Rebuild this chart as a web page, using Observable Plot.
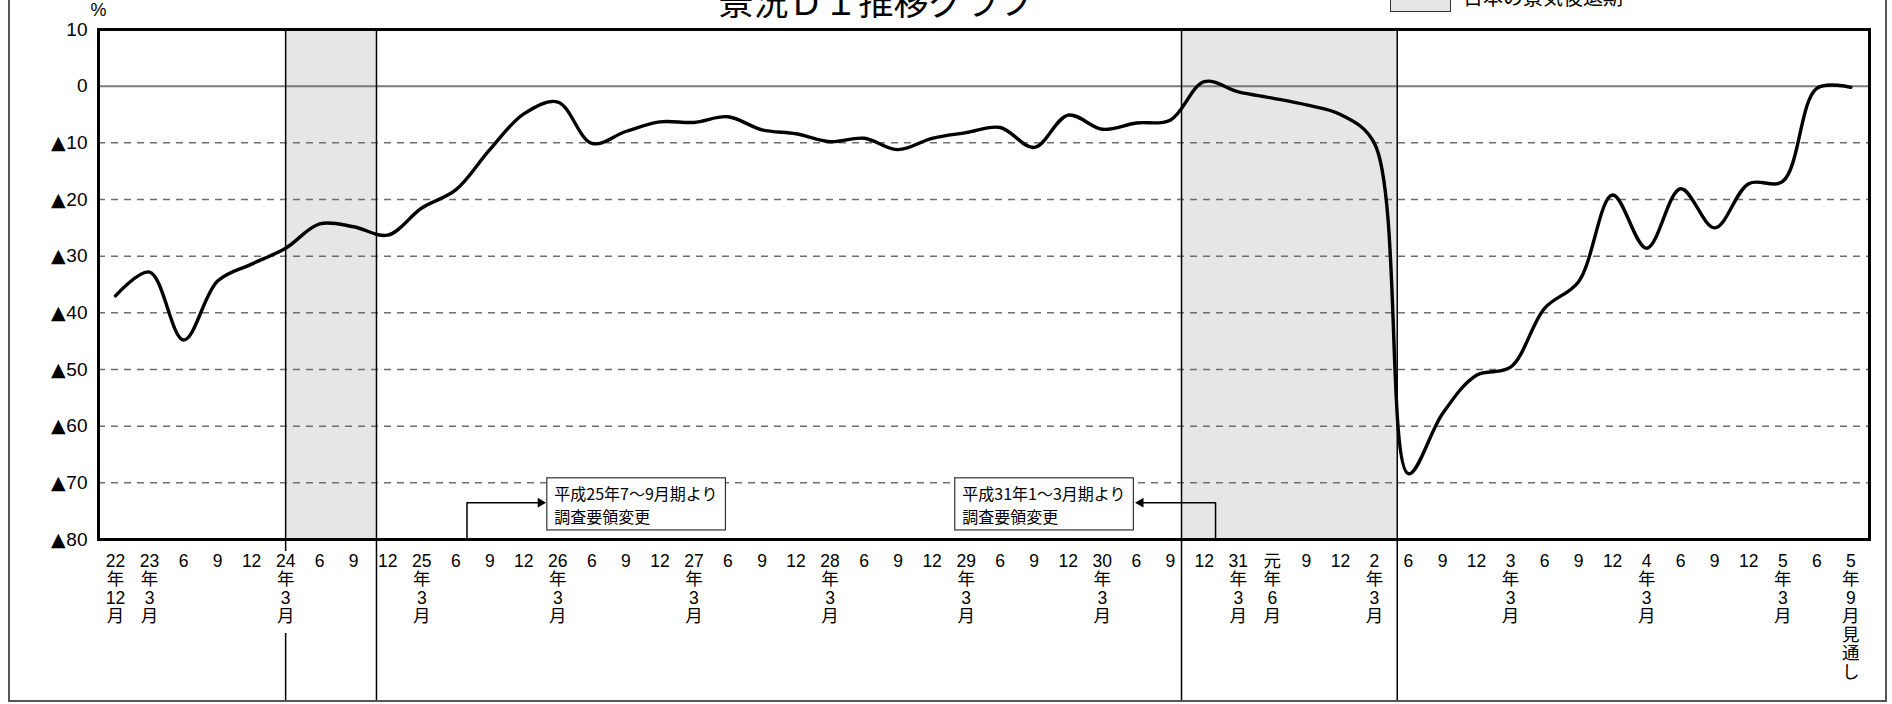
<!DOCTYPE html>
<html><head><meta charset="utf-8">
<script src="https://cdn.jsdelivr.net/npm/d3@7"></script>
<script src="https://cdn.jsdelivr.net/npm/@observablehq/plot@0.6"></script>
<style>
@font-face{font-family:"Tri";src:local("DejaVu Sans"),local("DejaVuSans");unicode-range:U+25B2;}
html,body{margin:0;padding:0;background:#fff;overflow:hidden;}
#wrap{position:relative;width:1892px;height:704px;font-family:"Liberation Sans","Noto Sans CJK JP",sans-serif;}
#outer{position:absolute;left:8px;top:-20px;width:1879px;height:722px;border:2px solid #555;box-sizing:border-box;pointer-events:none;}
#title{position:absolute;left:876px;top:-26px;transform:translateX(-50%);font-size:35px;white-space:nowrap;font-family:"Noto Sans CJK JP",sans-serif;}
#legbox{position:absolute;left:1390px;top:-20px;width:61px;height:32px;background:#e6e6e6;border:1.5px solid #333;box-sizing:border-box;}
#legtxt{position:absolute;left:1463px;top:-18px;font-size:20px;white-space:nowrap;font-family:"Noto Sans CJK JP",sans-serif;}
</style></head>
<body><div id="wrap"><div id="chart"></div><div id="outer"></div>
<div id="title">景況ＤＩ推移グラフ</div><div id="legbox"></div><div id="legtxt">日本の景気後退期</div></div>
<script>
// quarterly labels (index 0 = 平成22年12月 ... 51 = 令和5年9月見通し)
const xLabels = ["22\n年\n12\n月","23\n年\n3\n月","6","9","12","24\n年\n3\n月","6","9","12","25\n年\n3\n月","6","9","12","26\n年\n3\n月","6","9","12","27\n年\n3\n月","6","9","12","28\n年\n3\n月","6","9","12","29\n年\n3\n月","6","9","12","30\n年\n3\n月","6","9","12","31\n年\n3\n月","元\n年\n6\n月","9","12","2\n年\n3\n月","6","9","12","3\n年\n3\n月","6","9","12","4\n年\n3\n月","6","9","12","5\n年\n3\n月","6","5\n年\n9\n月\n見\n通\nし"];
// DI values (%)
const diValues = [-37,-32.8,-44.8,-34.4,-31.4,-28.6,-24.3,-24.8,-26.3,-21.5,-18.3,-11.2,-4.9,-2.8,-10.1,-8.0,-6.3,-6.4,-5.4,-7.7,-8.4,-9.8,-9.2,-11.2,-9.2,-8.2,-7.3,-10.8,-5.1,-7.6,-6.5,-6.0,0.8,-1.0,-2.1,-3.3,-5.0,-10.1,-68.4,-57.8,-51.0,-49.6,-39.2,-34.5,-19.2,-28.6,-18.1,-25.0,-17.2,-16.8,-0.4,-0.2];
// y axis
const yTicks = [10,0,-10,-20,-30,-40,-50,-60,-70,-80];
const yTickLabels = ["10","0","▲10","▲20","▲30","▲40","▲50","▲60","▲70","▲80"];
const gridDashed = [-10,-20,-30,-40,-50,-60,-70];
// recession periods (quarter index units: 2012/3–2012/11, 2018/10–2020/5)
const recStart = [5, 31.33];
const recEnd = [7.67, 37.67];
// survey method changes
const noteAt = [10.33, 32.33];          // 2013/7, 2019/1
const noteBoxX1 = [12.69, 24.68];
const noteBoxX2 = [17.94, 29.93];
const noteText = ["平成25年7～9月期より\n調査要領変更", "平成31年1～3月期より\n調査要領変更"];

const W = 1892, H = 704;
const mt = 29, mb = 165, ml = 98, mr = 23;
const yDomain = [-80, 10];
const pxPerUnit = (H - mt - mb) / (yDomain[1] - yDomain[0]);
const below = px => yDomain[0] - px / pxPerUnit; // data value px below the plot bottom
const bottomVal = below(162);

const recs = recStart.map((s,i)=>({x1:s, x2:recEnd[i]}));
const edges = [...recStart, ...recEnd];
const fullEdges = edges.filter(e => e !== recStart[0]);
const notes = noteAt.map((a,i)=>({at:a, bx1:noteBoxX1[i], bx2:noteBoxX2[i], text:noteText[i], right: a < noteBoxX1[i]}));
const boxTop = -69.2, boxBot = -78.4, elbowY = -73.5;
const elbows = notes.flatMap((n,k)=>{
  const tip = n.right ? n.bx1 - 0.12 : n.bx2 + 0.1;
  return [{k, x:n.at, y:yDomain[0]}, {k, x:n.at, y:elbowY}, {k, x:tip, y:elbowY}];
});
const heads = notes.map(n=>({x: n.right ? n.bx1 - 0.2 : n.bx2 + 0.2, y: elbowY, rot: n.right ? 90 : -90}));
const pts = diValues.map((v,i)=>({i, v}));

const chart = Plot.plot({
  width: W, height: H,
  marginTop: mt, marginBottom: mb, marginLeft: ml, marginRight: mr,
  style: {fontFamily: '"Liberation Sans","Noto Sans CJK JP",sans-serif', background: "transparent", overflow: "visible"},
  x: {domain: [-0.5, 51.55], axis: null},
  y: {domain: yDomain, axis: null},
  marks: [
    Plot.rect(recs, {x1:"x1", x2:"x2", y1: yDomain[0], y2: yDomain[1], fill:"#e6e6e6"}),
    Plot.ruleY(gridDashed, {stroke:"#6e6e6e", strokeWidth:1.5, strokeDasharray:"7,6"}),
    Plot.ruleY([0], {stroke:"#7a7a7a", strokeWidth:2}),
    Plot.ruleX(fullEdges, {y1: yDomain[1], y2: bottomVal, stroke:"#000", strokeWidth:1.5}),
    Plot.ruleX([recStart[0]], {y1: yDomain[1], y2: below(12), stroke:"#000", strokeWidth:1.5}),
    Plot.ruleX([recStart[0]], {y1: below(94), y2: bottomVal, stroke:"#000", strokeWidth:1.5}),
    Plot.line(pts, {x:"i", y:"v", curve:"catmull-rom", stroke:"#000", strokeWidth:3.4}),
    Plot.line(elbows, {x:"x", y:"y", z:"k", stroke:"#000", strokeWidth:1.5}),
    Plot.dot(heads, {x:"x", y:"y", symbol:"triangle", r:3.6, fill:"#000", rotate:"rot"}),
    Plot.rect(notes, {x1:"bx1", x2:"bx2", y1: boxBot, y2: boxTop, fill:"#fff", stroke:"#333", strokeWidth:1.2}),
    Plot.text(notes, {x:"bx1", y: (boxTop+boxBot)/2, text:"text", textAnchor:"start", dx:7, lineAnchor:"middle", lineHeight:1.4, fontSize:16, fill:"#000", fontFamily:'"Noto Sans CJK JP",sans-serif'}),
    Plot.frame({stroke:"#000", strokeWidth:3}),
    Plot.text(xLabels, {x:(d,i)=>i, y: yDomain[0], text:d=>d, dy:14, lineAnchor:"top", lineHeight:1.06, fontSize:17.5, fill:"#000"}),
    Plot.axisY({ticks: yTicks, tickFormat: d => yTickLabels[yTicks.indexOf(d)], tickSize:0, tickPadding:11, fontSize:19, fill:"#000", fontFamily:'"Tri","Liberation Sans",sans-serif'}),
    Plot.text(["%"], {frameAnchor:"top-left", dx:-8, dy:-19, lineAnchor:"middle", fontSize:18, fill:"#000"})
  ]
});
document.getElementById("chart").appendChild(chart);
</script></body></html>
